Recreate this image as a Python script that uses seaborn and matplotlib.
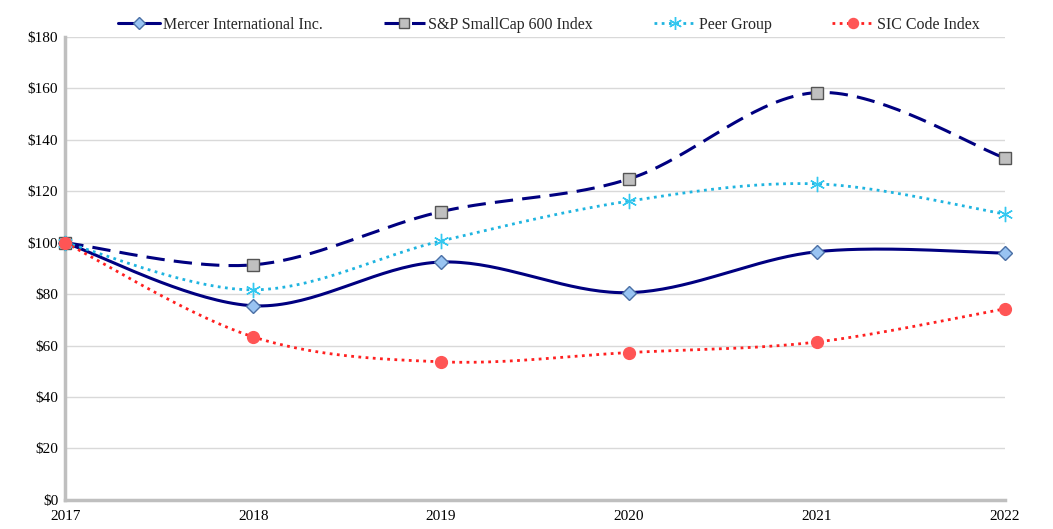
import numpy as np
import pandas as pd
import seaborn as sns
import matplotlib.pyplot as plt
from matplotlib.lines import Line2D

years = [2017, 2018, 2019, 2020, 2021, 2022]
mercer = [100, 75.5, 92.5, 80.6, 96.5, 96.0]
sp600 = [100, 91.4, 112.1, 124.8, 158.4, 133.0]
peer = [100, 81.7, 100.7, 116.2, 122.9, 111.2]
sic = [100, 63.4, 53.7, 57.3, 61.4, 74.3]

series_names = ["Mercer International Inc.", "S&P SmallCap 600 Index",
                "Peer Group", "SIC Code Index"]
y_ticks = list(range(0, 181, 20))


def smooth(xs, ys, n=40):
    """Excel-like smoothed line: Bezier segments with Catmull-Rom control points."""
    xs = np.asarray(xs, float)
    ys = np.asarray(ys, float)
    px = np.concatenate([[xs[0]], xs, [xs[-1]]])
    py = np.concatenate([[ys[0]], ys, [ys[-1]]])
    out_x, out_y = [], []
    t = np.linspace(0, 1, n)
    for i in range(1, len(px) - 2):
        x0, x1, x2, x3 = px[i - 1], px[i], px[i + 1], px[i + 2]
        y0, y1, y2, y3 = py[i - 1], py[i], py[i + 1], py[i + 2]
        c1x, c1y = x1 + (x2 - x0) / 6, y1 + (y2 - y0) / 6
        c2x, c2y = x2 - (x3 - x1) / 6, y2 - (y3 - y1) / 6
        bx = (1 - t) ** 3 * x1 + 3 * (1 - t) ** 2 * t * c1x + 3 * (1 - t) * t ** 2 * c2x + t ** 3 * x2
        by = (1 - t) ** 3 * y1 + 3 * (1 - t) ** 2 * t * c1y + 3 * (1 - t) * t ** 2 * c2y + t ** 3 * y2
        out_x.extend(bx)
        out_y.extend(by)
    return np.array(out_x), np.array(out_y)


sns.set_theme(style="white")
plt.rcParams['font.family'] = ['Liberation Serif', 'DejaVu Serif']

fig, ax = plt.subplots(figsize=(10.53, 5.29), dpi=100)
fig.subplots_adjust(left=0.062, right=0.954, bottom=0.055, top=0.930)

styles = [
    dict(values=mercer, color="#000080", dashes=None, lw=2.2,
         marker="D", ms=7, mfc="#99c4f2", mec="#4a6fa5"),
    dict(values=sp600, color="#000080", dashes=(6, 3), lw=2.2,
         marker="s", ms=8, mfc="#c0c0c0", mec="#555555"),
    dict(values=peer, color="#1fb4e0", dashes=(1, 1.6), lw=2.0,
         marker=(6, 2, 0), ms=11, mfc="#33c8f0", mec="#33c8f0"),
    dict(values=sic, color="#ff2020", dashes=(1, 1.6), lw=2.0,
         marker="o", ms=8.5, mfc="#ff5555", mec="#ff5555"),
]

handles = []
for name, st in zip(series_names, styles):
    sx, sy = smooth(years, st["values"])
    curve = pd.DataFrame({"year": sx, "value": sy})
    sns.lineplot(data=curve, x="year", y="value", ax=ax, color=st["color"],
                 linewidth=st["lw"], sort=False, estimator=None, zorder=3)
    line = ax.get_lines()[-1]
    if st["dashes"] is not None:
        line.set_dashes(st["dashes"])
    pts = pd.DataFrame({"year": years, "value": st["values"]})
    ax.plot(pts["year"], pts["value"], linestyle="none", marker=st["marker"],
            markersize=st["ms"], markerfacecolor=st["mfc"],
            markeredgecolor=st["mec"], markeredgewidth=1.0,
            zorder=4, clip_on=False)
    h = Line2D([], [], color=st["color"], linewidth=st["lw"], marker=st["marker"],
               markersize=st["ms"] * 0.85, markerfacecolor=st["mfc"],
               markeredgecolor=st["mec"])
    if st["dashes"] is not None:
        h.set_dashes(st["dashes"])
    handles.append(h)

ax.set_xlim(years[0], years[-1])
ax.set_ylim(0, 180)
ax.set_xticks(years)
ax.set_xticklabels([str(y) for y in years])
ax.set_yticks(y_ticks)
ax.set_yticklabels([f"${v}" for v in y_ticks])
ax.set_xlabel("")
ax.set_ylabel("")
ax.grid(axis="y", color="#d9d9d9", linewidth=1.0)
ax.grid(axis="x", visible=False)

for side in ["top", "right"]:
    ax.spines[side].set_visible(False)
for side in ["left", "bottom"]:
    ax.spines[side].set_color("#bfbfbf")
    ax.spines[side].set_linewidth(2.5)

ax.tick_params(axis="both", which="major", labelsize=11, colors="#bfbfbf",
               labelcolor="black", length=3, width=1.5, direction="out")
ax.tick_params(axis="x", pad=4)
ax.tick_params(axis="y", pad=2)

ax.legend(handles=handles, labels=series_names, ncol=4, loc="lower center",
          bbox_to_anchor=(0.515, 0.995), frameon=False, fontsize=11.5,
          handlelength=2.6, handletextpad=0.2, columnspacing=3.8,
          borderaxespad=0)

fig.savefig("out.png", dpi=100)
